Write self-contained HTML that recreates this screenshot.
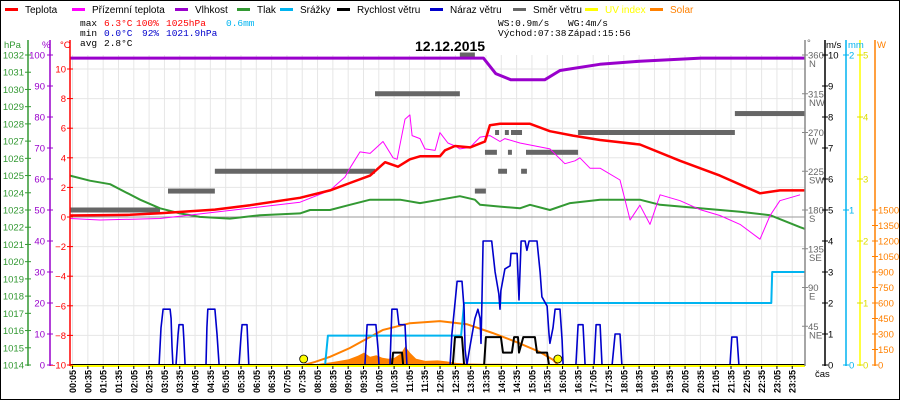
<!DOCTYPE html>
<html><head><meta charset="utf-8">
<style>
html,body{margin:0;padding:0;background:#fff;}
svg{display:block;font-family:"Liberation Sans",sans-serif;}
</style></head>
<body>
<svg id="c" width="900" height="400" viewBox="0 0 900 400" xmlns="http://www.w3.org/2000/svg">
<rect x="0.5" y="0.5" width="899" height="399" fill="#fff" stroke="#000"/>
<g id="legend" font-size="10"></g>
<g id="stats" font-size="9.5" font-family="Liberation Mono, monospace">
<text x="80" y="26">max</text><text x="104" y="26" fill="#f00">6.3°C</text><text x="136" y="26" fill="#f00">100%</text><text x="166" y="26" fill="#f00">1025hPa</text><text x="226" y="26" fill="#00b4f0">0.6mm</text>
<text x="80" y="36">min</text><text x="104" y="36" fill="#00c">0.0°C</text><text x="142" y="36" fill="#00c">92%</text><text x="166" y="36" fill="#00c">1021.9hPa</text>
<text x="80" y="46">avg</text><text x="104" y="46">2.8°C</text>
<text x="498" y="26">WS:0.9m/s</text><text x="568" y="26">WG:4m/s</text>
<text x="498" y="36">Východ:07:38</text><text x="568" y="36">Západ:15:56</text>
</g>
<text x="415" y="51" font-size="14" font-weight="bold">12.12.2015</text>
<g id="plot"></g>
<g id="axes"></g>
</svg>
<script>
// ---- data (hours, values) ----
const tempT=[0,1.96,2.94,4.73,5.88,7.51,8.49,9.14,9.8,10.29,10.71,11.1,11.43,12.08,12.24,12.57,13.06,13.55,13.71,14.04,15.02,15.67,16.42,17.31,18.61,19.92,21.22,22.53,23.18,24];
const tempV=[0.1,0.15,0.25,0.5,0.8,1.3,1.8,2.3,2.8,3.7,3.4,3.9,4.1,4.1,4.5,4.8,4.7,5.1,6.2,6.3,6.3,5.8,5.5,5.2,4.9,3.8,2.8,1.6,1.8,1.8];
const appT=[0,0.98,2.94,5.88,7.51,8.49,8.98,9.14,9.47,9.8,10.22,10.55,10.68,10.94,11.1,11.17,11.43,11.59,11.92,12.08,12.34,12.57,12.73,13.06,13.39,13.71,14.04,14.2,14.69,15.67,16.16,16.49,16.65,16.98,17.31,17.96,18.29,18.61,18.94,19.27,19.92,20.57,21.22,21.88,22.53,22.86,23.18,23.84];
const appV=[-0.1,-0.2,-0.1,0.6,1.0,1.8,2.7,3.3,4.4,4.3,5.1,4.0,3.9,6.6,6.9,5.5,5.3,4.6,4.5,5.7,5.0,4.8,4.6,4.7,5.4,5.5,5.1,5.3,5.0,4.6,3.6,3.8,4.0,3.3,3.3,2.5,-0.2,0.8,-0.5,1.5,1.1,0.5,0.1,-0.5,-1.5,0.1,1.1,1.5];
const humT=[0,13.5,13.9,14.4,15.5,16.0,17.3,18.6,20.6,24];
const humV=[99,99,94,92,92,95,97,98,99,99];
const presT=[0,0.65,1.31,2.29,2.94,3.59,4.24,5.22,6.2,7.51,7.84,8.49,9.14,9.8,10.78,11.43,12.08,12.73,13.22,13.39,14.04,14.69,15.02,15.67,16.33,17.31,18.61,19.27,20.57,21.88,22.86,23.84,24];
const presV=[1025.0,1024.7,1024.5,1023.6,1023.1,1022.8,1022.6,1022.5,1022.7,1022.8,1023.0,1023.0,1023.3,1023.6,1023.6,1023.4,1023.6,1023.8,1023.6,1023.3,1023.2,1023.1,1023.3,1023.0,1023.4,1023.6,1023.6,1023.3,1023.1,1022.9,1022.7,1022.0,1021.9];
const dirStart=[0,3.2,4.73,9.96,12.73,13.22,13.55,13.88,13.98,14.2,14.3,14.4,14.73,14.89,16.59,21.71];
const dirEnd=[2.94,4.73,9.96,12.73,13.22,13.58,13.94,14.01,14.27,14.33,14.43,14.76,14.92,16.59,21.71,24];
const dirDeg=[180,202,225,315,360,202,247,270,225,270,247,270,225,247,270,292];
const gustT=[0,2.91,2.97,3.04,3.27,3.3,3.33,3.36,3.46,3.53,3.56,3.69,3.72,3.76,4.44,4.47,4.5,4.73,4.8,4.87,5.52,5.59,5.62,5.78,5.84,9.63,9.7,9.99,10.06,10.09,10.45,10.51,10.68,10.74,10.94,11.0,12.41,12.47,12.57,12.64,12.8,12.87,12.9,12.96,13.06,13.22,13.32,13.39,13.42,13.45,13.49,13.77,13.88,14.0,14.04,14.07,14.2,14.37,14.4,14.6,14.66,14.73,14.86,14.92,14.99,15.25,15.35,15.41,15.58,15.64,15.67,15.77,15.84,16.0,16.07,16.1,16.52,16.59,16.75,16.82,17.11,17.18,17.31,17.37,17.7,17.8,17.96,18.02,21.55,21.61,21.78,21.84,24];
const gustV=[0,0,1.2,1.8,1.8,1.5,0.6,0,0,1.0,1.3,1.3,0.8,0,0,1.2,1.8,1.8,1.0,0,0,1.0,1.3,1.3,0,0,1.3,1.3,0.5,0,0,1.8,1.8,1.3,1.3,0,0,1.0,2.0,2.7,2.7,1.8,0.5,0,0.6,1.5,1.8,1.5,0.7,2.0,4.0,4.0,3.0,2.3,1.8,2.4,3.1,3.2,3.6,3.6,2.1,4.0,4.0,3.7,4.0,4.0,3.0,2.2,1.9,1.0,0.7,1.2,1.8,1.8,0.8,0,0,1.3,1.3,0,0,1.3,1.3,0,0,1.0,1.0,0,0,0.9,0.9,0,0];
const windT=[0,10.51,10.55,10.84,10.88,12.5,12.57,12.8,12.87,13.52,13.58,14.07,14.14,14.43,14.5,14.63,14.66,14.8,15.18,15.25,15.58,15.64,24];
const windV=[0,0,0.4,0.4,0,0,0.9,0.9,0,0,0.9,0.9,0.4,0.4,0.9,0.9,0.4,0.9,0.9,0.4,0.4,0,0];
const rainT=[0,8.33,8.42,12.77,12.87,22.9,22.93,24];
const rainV=[0,0,0.19,0.19,0.4,0.4,0.6,0.6];
const solThT=[7.64,8.0,8.5,9.14,9.6,10.22,11.1,12.08,12.96,13.8,14.6,15.35,15.77,15.93];
const solThV=[0,30,80,165,240,340,405,425,395,310,220,125,50,0];
const solT=[7.9,8.2,8.5,8.8,9.1,9.4,9.6,9.8,10.0,10.2,10.4,10.6,10.8,10.95,11.1,11.3,11.6,12.0,12.3,12.6,13.0,13.5,14.0,14.5,15.0,15.5,15.9];
const solV=[0,15,25,40,55,90,120,80,95,70,60,70,110,180,120,60,40,45,35,20,15,12,12,10,8,5,0];
const sunMarks=[7.63,15.93];
const xLabels=[];for(let i=0;i<48;i++){const m=5+30*i;xLabels.push(String(Math.floor(m/60)).padStart(2,'0')+':'+String(m%60).padStart(2,'0'));}
const presTicks=[1014,1015,1016,1017,1018,1019,1020,1021,1022,1023,1024,1025,1026,1027,1028,1029,1030,1031,1032];
const humTicks=[0,10,20,30,40,50,60,70,80,90,100];
const tempTicks=[-10,-8,-6,-4,-2,0,2,4,6,8,10];
const dirTicks=[45,90,135,180,225,270,315,360];
const dirNames=['NE','E','SE','S','SW','W','NW','N'];
const msTicks=[0,1,2,3,4,5,6,7,8,9,10];
const mmTicks=[0,1,2];
const uvTicks=[0,1,2,3,4,5];
const wTicks=[0,150,300,450,600,750,900,1050,1200,1350,1500];

// ---- scales ----
const X=h=>70+h*30.625;
const Yt=c=>217-c*14.8;
const Yh=p=>365-p*3.1;
const Yp=v=>365-(v-1014)*17.222;
const Yw=v=>365-v*31;
const Ymm=m=>365-m*155;
const Ysol=w=>365-w*0.10333;
const Ydir=d=>365-d*310/360;
const Yuv=u=>365-u*62;

const NS='http://www.w3.org/2000/svg';
const plot=document.getElementById('plot'),axes=document.getElementById('axes'),legend=document.getElementById('legend');
function mk(tag,attrs,parent){const e=document.createElementNS(NS,tag);for(const k in attrs)e.setAttribute(k,attrs[k]);parent.appendChild(e);return e;}
function pathOf(ts,vs,yf){return ts.map((t,i)=>(i?'L':'M')+X(t).toFixed(1)+','+yf(vs[i]).toFixed(1)).join('');}

// grid
for(let i=0;i<48;i++){const x=X((5+30*i)/60);
 const g=mk('line',{x1:x,x2:x,y1:55,y2:365,stroke:'#e6e6e6','stroke-width':1},plot);
 
 }
tempTicks.forEach(t=>{if(t===-10)return;const y=Yt(t);
 const g=mk('line',{x1:70,x2:805,y1:y,y2:y,stroke:t===0?'#999':'#e6e6e6','stroke-width':1},plot);
 
 });

// solar fill
let sp='M'+X(solT[0])+',365'+solT.map((t,i)=>'L'+X(t).toFixed(1)+','+Ysol(solV[i]).toFixed(1)).join('')+'L'+X(solT[solT.length-1])+',365Z';
const sf=mk('path',{d:sp,fill:'#ff8000',stroke:'none'},plot);


const st=mk('path',{d:pathOf(solThT,solThV,Ysol),fill:'none',stroke:'#ff8000','stroke-width':2},plot);



// direction bars
dirDeg.forEach((d,i)=>{const r=mk('rect',{x:X(dirStart[i]),y:Ydir(d)-2.5,width:X(dirEnd[i])-X(dirStart[i]),height:5,fill:'#666'},plot);
 
 });

function line(ts,vs,yf,col,w,name){const p=mk('path',{d:pathOf(ts,vs,yf),fill:'none',stroke:col,'stroke-width':w,'stroke-linejoin':'round'},plot);
 
 }
line(presT,presV,Yp,'#339933',2,'pressure-line');
line(humT,humV,Yh,'#9900cc',3,'humidity-line');
line(rainT,rainV,Ymm,'#00b4f0',2,'rain-line');
line(gustT,gustV,Yw,'#0000cc',1.6,'wind-gust-line');
line(windT,windV,Yw,'#000',2,'wind-speed-line');
line(appT,appV,Yt,'#ff00ff',1,'apparent-temperature-line');
line(tempT,tempV,Yt,'#ff0000',2.5,'temperature-line');

// baselines
let b=mk('line',{x1:70,x2:805,y1:366,y2:366,stroke:'#ffff00','stroke-width':2},plot);


b=mk('line',{x1:70,x2:805,y1:364.5,y2:364.5,stroke:'#000','stroke-width':1},plot);


sunMarks.forEach(h=>{const c=mk('circle',{cx:X(h),cy:359,r:4,fill:'#ffff00',stroke:'#000','stroke-width':0.8},plot);
 
 });

// axes
function txt(x,y,s,col,anchor,name,size){const t=mk('text',{x:x,y:y,fill:col,'font-size':size||9.5,'text-anchor':anchor||'start'},axes);t.textContent=s;
 
 return t;}
function vaxis(x,y1,y2,col,name){const l=mk('line',{x1:x,x2:x,y1:y1,y2:y2,stroke:col,'stroke-width':1.5},axes);
 
 }
function tick(x,y,col){const l=mk('line',{x1:x-3,x2:x+3,y1:y,y2:y,stroke:col,'stroke-width':1},axes);
 
 }
vaxis(28,40,366,'#339933','pressure-axis');
vaxis(50,40,366,'#9900cc','humidity-axis');
vaxis(70,40,366,'#ff0000','temperature-axis');
txt(4,48,'hPa','#339933','start','pressure-axis-title');
txt(42,48,'%','#9900cc','start','humidity-axis-title');
txt(60,48,'°C','#ff0000','start','temperature-axis-title');
presTicks.forEach(v=>{tick(28,Yp(v),'#339933');txt(24,Yp(v)+3.5,String(v),'#339933','end','pressure-tick-label');});
humTicks.forEach(v=>{tick(50,Yh(v),'#9900cc');txt(45,Yh(v)+3.5,String(v),'#9900cc','end','humidity-tick-label');});
tempTicks.forEach(v=>{tick(70,Yt(v),'#ff0000');txt(66,Yt(v)+3.5,v<0?'−'+(-v):String(v),'#ff0000','end','temperature-tick-label');});

vaxis(805,40,366,'#888','wind-direction-axis');
vaxis(825,40,366,'#000','wind-speed-axis');
vaxis(846,40,366,'#00b4f0','rain-axis');
vaxis(860,40,366,'#ffff00','uv-axis');
vaxis(875,40,366,'#ff8000','solar-axis');
txt(807,46,'°','#666','start','wind-direction-axis-title');
txt(826,48,'m/s','#000','start','wind-speed-axis-title');
txt(848,48,'mm','#00b4f0','start','rain-axis-title');
txt(877,48,'W','#ff8000','start','solar-axis-title');
dirTicks.forEach((d,i)=>{tick(805,Ydir(d),'#888');txt(808,Ydir(d)+3.5,String(d),'#666','start','direction-tick-label');txt(809,Ydir(d)+12,dirNames[i],'#666','start','direction-compass-label');});
msTicks.forEach(v=>{tick(825,Yw(v),'#000');txt(828,Yw(v)+3.5,String(v),'#000','start','wind-speed-tick-label');});
mmTicks.forEach(v=>{tick(846,Ymm(v),'#00b4f0');txt(849,Ymm(v)+3.5,String(v),'#00b4f0','start','rain-tick-label');});
uvTicks.forEach(v=>{tick(860,Yuv(v),'#dddd00');txt(863,Yuv(v)+3.5,String(v),'#dddd00','start','uv-tick-label');});
wTicks.forEach(v=>{tick(875,Ysol(v),'#ff8000');txt(878,Ysol(v)+3.5,String(v),'#ff8000','start','solar-tick-label');});
txt(815,377,'čas','#000','start','time-axis-title');

xLabels.forEach((s,i)=>{const x=X((5+30*i)/60);
 const l=mk('line',{x1:x,x2:x,y1:366,y2:369,stroke:'#000'},axes);
 
 
 const t=mk('text',{x:0,y:0,'font-size':9,'font-weight':'bold','text-anchor':'end',fill:'#000',transform:'translate('+(x+3.5)+',370) rotate(-90)'},axes);
 t.textContent=s;
 
 });

// legend
const legNames=['Teplota','Přízemní teplota','Vlhkost','Tlak','Srážky','Rychlost větru','Náraz větru','Směr větru','UV index','Solar'];
const legCols=['#ff0000','#ff00ff','#9900cc','#339933','#00b4f0','#000','#0000cc','#666','#ffff00','#ff8000'];
const legX=[5,72,175,237,280,337,430,513,585,650];
legNames.forEach((n,i)=>{const g=mk('g',{},legend);
 
 
 mk('rect',{x:legX[i],y:8,width:13,height:3,fill:legCols[i]},g);
 const t=mk('text',{x:legX[i]+20,y:13,fill:(i>=8?legCols[i]:'#000'),'font-size':10},g);t.textContent=n;});
</script>
</body></html>
